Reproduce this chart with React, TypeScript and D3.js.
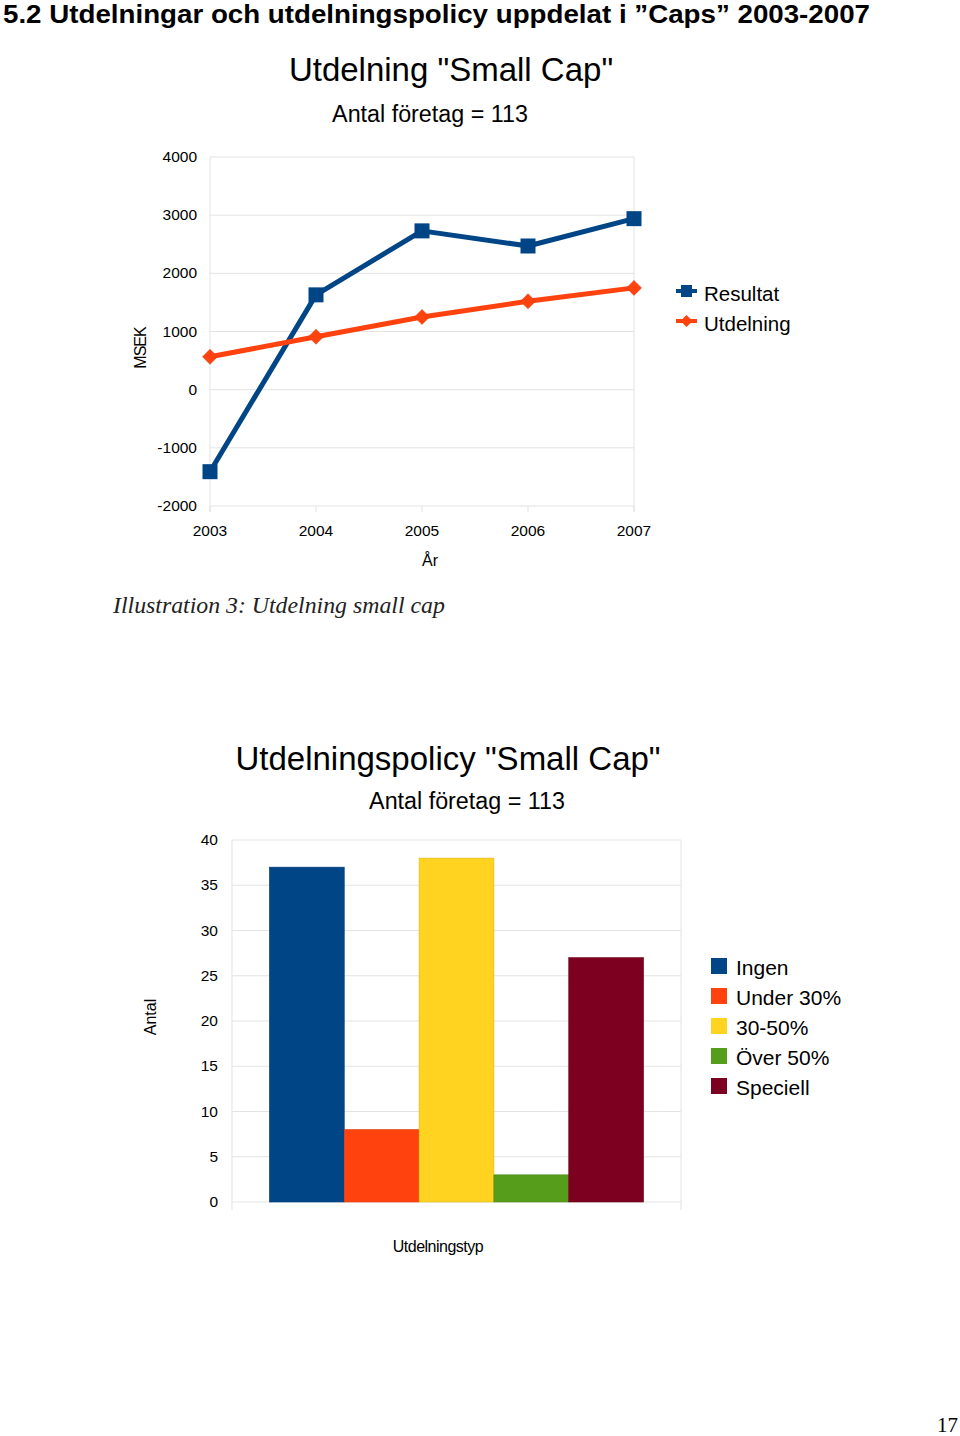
import * as d3 from "d3";

const years = ["2003", "2004", "2005", "2006", "2007"];
const resultat = [-1410, 1630, 2730, 2470, 2940];
const utdelning = [565, 910, 1250, 1520, 1750];
const msekTicks = [-2000, -1000, 0, 1000, 2000, 3000, 4000];

const policyTypes = ["Ingen", "Under 30%", "30-50%", "Över 50%", "Speciell"];
const policyCounts = [37, 8, 38, 3, 27];
const policyColors = ["#004586", "#ff420e", "#ffd320", "#579d1c", "#7e0021"];
const countTicks = [0, 5, 10, 15, 20, 25, 30, 35, 40];

const BLUE = "#004586";
const ORANGE = "#ff420e";
const GRID = "#e3e3e3";
const FONT = "'Liberation Sans', Arial, sans-serif";

const LineChart = () => {
  const x = d3.scalePoint().domain(years).range([210, 634]);
  const y = d3.scaleLinear().domain([-2000, 4000]).range([506, 157]);
  const line = d3
    .line<number>()
    .x((_, i) => x(years[i])!)
    .y((d) => y(d));

  return (
    <g fontFamily={FONT}>
      <text x={451} y={81} fontSize={33} textAnchor="middle" fill="#000">
        Utdelning "Small Cap"
      </text>
      <text x={430} y={122} fontSize={23.3} textAnchor="middle" fill="#000">
        Antal företag = 113
      </text>

      {/* grid */}
      {msekTicks.map((t) => (
        <g key={t}>
          <line x1={210} x2={634} y1={y(t)} y2={y(t)} stroke={GRID} strokeWidth={1} />
          <text x={197} y={y(t) + 5} fontSize={15.5} textAnchor="end" fill="#000">
            {t}
          </text>
        </g>
      ))}
      <line x1={210} x2={210} y1={157} y2={512} stroke={GRID} />
      <line x1={634} x2={634} y1={157} y2={512} stroke={GRID} />
      {years.map((yr) => (
        <g key={yr}>
          <line x1={x(yr)} x2={x(yr)} y1={506} y2={512} stroke={GRID} />
          <text x={x(yr)} y={536} fontSize={15.5} textAnchor="middle" fill="#000">
            {yr}
          </text>
        </g>
      ))}
      <text x={430} y={566} fontSize={16} textAnchor="middle" fill="#000">
        År
      </text>
      <text
        transform={`translate(146,348) rotate(-90)`}
        fontSize={16}
        textAnchor="middle"
        fill="#000"
        letterSpacing={-1}
      >
        MSEK
      </text>

      {/* lines */}
      <path d={line(resultat)!} fill="none" stroke={BLUE} strokeWidth={5} strokeLinejoin="round" />
      <path d={line(utdelning)!} fill="none" stroke={ORANGE} strokeWidth={5} strokeLinejoin="round" />
      {resultat.map((v, i) => (
        <rect key={i} x={x(years[i])! - 7.5} y={y(v) - 7.5} width={15} height={15} fill={BLUE} />
      ))}
      {utdelning.map((v, i) => (
        <path
          key={i}
          d={`M${x(years[i])},${y(v) - 7.5}l7.5,7.5l-7.5,7.5l-7.5,-7.5z`}
          fill={ORANGE}
          stroke="#d8380a"
          strokeWidth={0.5}
        />
      ))}

      {/* legend */}
      <line x1={676} x2={697} y1={291} y2={291} stroke={BLUE} strokeWidth={4} />
      <rect x={681} y={285} width={11} height={12} fill={BLUE} />
      <text x={704} y={301} fontSize={20.5} fill="#000">Resultat</text>
      <line x1={676} x2={697} y1={321} y2={321} stroke={ORANGE} strokeWidth={4} />
      <path d="M686.5,315l6,6l-6,6l-6,-6z" fill={ORANGE} />
      <text x={704} y={331} fontSize={20.5} fill="#000">Utdelning</text>
    </g>
  );
};

const BarChart = () => {
  const x = d3.scaleBand().domain(policyTypes).range([232, 681]).paddingInner(0).paddingOuter(0.5);
  const y = d3.scaleLinear().domain([0, 40]).range([1202, 840]);

  return (
    <g fontFamily={FONT}>
      <text x={448} y={770} fontSize={33} textAnchor="middle" fill="#000">
        Utdelningspolicy "Small Cap"
      </text>
      <text x={467} y={809} fontSize={23.3} textAnchor="middle" fill="#000">
        Antal företag = 113
      </text>

      {countTicks.map((t) => (
        <g key={t}>
          <line x1={232} x2={681} y1={y(t)} y2={y(t)} stroke={GRID} />
          <text x={218} y={y(t) + 5} fontSize={15.5} textAnchor="end" fill="#000">
            {t}
          </text>
        </g>
      ))}
      <line x1={232} x2={232} y1={840} y2={1210} stroke={GRID} />
      <line x1={681} x2={681} y1={840} y2={1210} stroke={GRID} />

      {policyTypes.map((p, i) => (
        <rect
          key={p}
          x={x(p)}
          y={y(policyCounts[i])}
          width={x.bandwidth()}
          height={y(0) - y(policyCounts[i])}
          fill={policyColors[i]}
          stroke={d3.color(policyColors[i])!.darker(0.4).formatHex()}
          strokeWidth={0.6}
        />
      ))}

      <text x={438} y={1252} fontSize={16} textAnchor="middle" fill="#000" letterSpacing={-0.5}>
        Utdelningstyp
      </text>
      <text transform={`translate(156,1017) rotate(-90)`} fontSize={16} textAnchor="middle" fill="#000">
        Antal
      </text>

      {policyTypes.map((p, i) => (
        <g key={p}>
          <rect x={711} y={958 + i * 30} width={16} height={16} fill={policyColors[i]} />
          <text x={736} y={975 + i * 30} fontSize={21} fill="#000">
            {p}
          </text>
        </g>
      ))}
    </g>
  );
};

export default function App() {
  return (
    <svg
      width={960}
      height={1436}
      viewBox="0 0 960 1436"
      style={{ position: "absolute", left: 0, top: 0, background: "#fff" }}
    >
      <rect width={960} height={1436} fill="#fff" />
      <text
        x={3}
        y={23}
        fontFamily="'Liberation Sans Narrow', 'Liberation Sans', Arial, sans-serif"
        fontWeight="bold"
        fontSize={26}
        textLength={867}
        lengthAdjust="spacingAndGlyphs"
        fill="#000"
      >
        5.2 Utdelningar och utdelningspolicy uppdelat i ”Caps” 2003-2007
      </text>
      <LineChart />
      <text
        x={113}
        y={613}
        fontFamily="'Liberation Serif', 'Times New Roman', serif"
        fontStyle="italic"
        fontSize={23.8}
        fill="#222"
      >
        Illustration 3: Utdelning small cap
      </text>
      <BarChart />
      <text
        x={958}
        y={1432}
        fontFamily="'Liberation Serif', 'Times New Roman', serif"
        fontSize={21}
        textAnchor="end"
        fill="#000"
      >
        17
      </text>
    </svg>
  );
}
